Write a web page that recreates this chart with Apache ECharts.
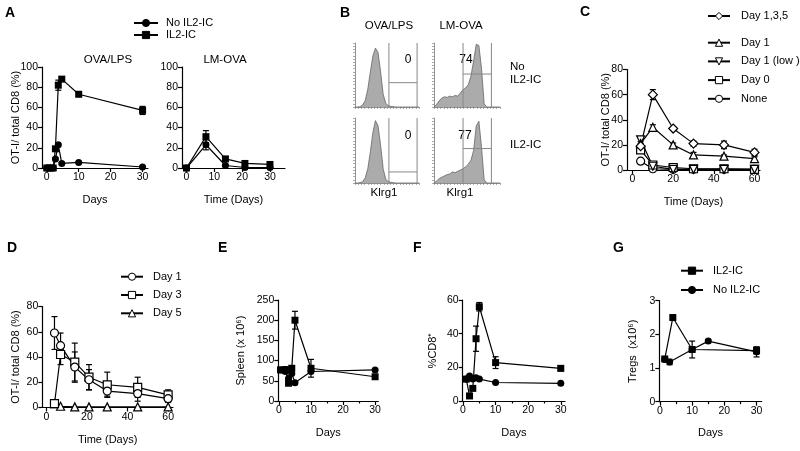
<!DOCTYPE html>
<html><head><meta charset="utf-8">
<script src="https://cdn.jsdelivr.net/npm/echarts@6/dist/echarts.min.js"></script>
<style>html,body{margin:0;padding:0;background:#fff}#c{width:800px;height:451px}</style>
</head><body><div id="c"></div>
<script>
// ---------- DATA ----------
// A: OVA/LPS
const aOvaDays = [0, 1, 2, 2.7, 3.6, 4.7, 10, 30];
const aOvaNoIC = [0, 0, 0, 9, 23, 4.5, 5.5, 1];
const aOvaNoICErr = [0, 0, 0, 1, 1, 1, 1, 1];
const aOvaIC = [0, 0, 0, 19, 82, 88, 73, 57];
const aOvaICErr = [0, 0, 0, 2, 5, 2, 2, 4];
// A: LM-OVA
const aLmDays = [0, 7, 14, 21, 30];
const aLmNoIC = [0, 23, 2.5, 0.5, 0.5];
const aLmNoICErr = [0, 5, 1, 0.5, 0.5];
const aLmIC = [0, 31, 9, 4.5, 3.5];
const aLmICErr = [0, 6, 1, 1, 1];
// B: Klrg1 histograms (channel %, normalised count %)
const hx  = [0,4,8,12,16,20,24,28,32,36,40,44,48,52,56,60,64,68,72,76,80,84,88,92,96,100];
const hTL = [0,0,0.5,3,10,28,55,80,92,85,55,20,6,2,1,0.5,0,0,0,0,0,0,0,0,0,0];
const hTR = [0,4,10,14,16,15,17,16,18,17,22,27,30,35,48,72,98,96,60,5,0,0,0,0,0,0];
const hBL = [0,0,0.5,2,8,22,48,78,96,88,58,22,6,2,1,0.5,0,0,0,0,0,0,0,0,0,0];
const hBR = [0,3,7,9,11,13,14,17,16,18,20,22,25,29,35,50,88,95,55,5,0,0,0,0,0,0];
const gateStart = [53, 44, 53, 44];
const gateEnd = [97, 87, 97, 87];
const gateHeight = [38, 51.5, 17, 53];
const klrg1Pct = ['0', '74', '0', '77'];
// C
const cDays = [4, 10, 20, 30, 45, 60];
const cD135 = [19, 60, 33, 21, 20, 14];
const cD135Err = [2, 4, 1.5, 2, 3, 2.5];
const cD1 = [21, 34, 20, 12, 11, 9];
const cD1Err = [1.5, 2, 1.5, 2, 1, 1.5];
const cD1low = [24, 3, 0.5, 0.5, 0.5, 0.5];
const cD0 = [16, 4, 2, 1, 1, 0.5];
const cNone = [7, 1, 0.5, 0.5, 0.5, 0.5];
// D
const dDays = [4, 7, 14, 21, 30, 45, 60];
const dDay1 = [59, 49, 32, 22, 13, 11, 7];
const dDay1Err = [13, 10, 12, 8, 4, 6, 3];
const dDay3 = [3, 42, 36, 24, 18, 16, 10];
const dDay3Err = [1, 8, 15, 10, 10, 8, 4];
const dDay5 = [3, 1, 0.5, 0.5, 0.5, 0.5, 0.5];
// E
const eDays = [0.5, 2, 3, 4, 5, 10, 30];
const eIC = [77, 77, 44, 81, 200, 81, 60];
const eICErr = [4, 8, 4, 5, 22, 22, 3];
const eNoIC = [77, 73, 56, 68, 45, 73, 77];
const eNoICErr = [2, 2, 2, 2, 2, 2, 2];
// F
const fDays = [1, 2, 3, 4, 5, 10, 30];
const fIC = [13, 3, 7.5, 37, 56, 22.8, 19.4];
const fICErr = [0.5, 1, 1, 7.5, 2.5, 3.5, 1.5];
const fNoIC = [13, 14.8, 13, 13.8, 13, 11, 10.5];
const fNoICErr = [0.5, 0.5, 0.5, 0.5, 0.5, 0.5, 0.5];
// G
const gICDays = [1.5, 4, 10, 30];
const gIC = [1.27, 2.5, 1.55, 1.52];
const gICErr = [0.05, 0.05, 0.25, 0.1];
const gNoDays = [1.5, 3, 10, 15, 30];
const gNo = [1.25, 1.18, 1.55, 1.8, 1.48];
const gNoErr = [0.05, 0.08, 0.05, 0.05, 0.15];

// ---------- HELPERS ----------
const FF = 'Liberation Sans, Arial, Helvetica, sans-serif';
const BLK = '#000';
const grids = [
  {left:42, top:67, width:106, height:101},     // 0 A left
  {left:182, top:67, width:103, height:101},    // 1 A right
  {left:355, top:43, width:64, height:64},      // 2 B TL
  {left:434, top:43, width:66, height:64},      // 3 B TR
  {left:355, top:118, width:64, height:65},     // 4 B BL
  {left:434, top:118, width:66, height:65},     // 5 B BR
  {left:627, top:69.5, width:133, height:100.5},// 6 C
  {left:42.3, top:306.5, width:130.7, height:101}, // 7 D
  {left:278.3, top:300, width:100, height:101}, // 8 E
  {left:462.7, top:300, width:102.3, height:101}, // 9 F
  {left:659.3, top:300.7, width:102.4, height:101} // 10 G
].map(g => Object.assign({containLabel:false, outerBoundsMode:'none'}, g));

function xAx(g, min, max, ticks, name, gap) {
  return {type:'value', gridIndex:g, min, max, name, nameLocation:'middle', nameGap:gap, nameMoveOverlap:false,
    nameTextStyle:{fontSize:11, color:BLK, fontFamily:FF},
    axisLine:{onZero:false, lineStyle:{color:BLK, width:1.2}},
    axisTick:{customValues:ticks, length:4, lineStyle:{color:BLK, width:1.2}},
    axisLabel:{customValues:ticks, fontSize:10.5, color:BLK, margin:4, fontFamily:FF},
    splitLine:{show:false}};
}
function yAx(g, max, interval, name, gap) {
  return {type:'value', gridIndex:g, min:0, max, interval, name, nameLocation:'middle', nameGap:gap, nameMoveOverlap:false,
    nameTextStyle:{fontSize:11, color:BLK, fontFamily:FF},
    axisLine:{onZero:false, lineStyle:{color:BLK, width:1.2}},
    axisTick:{length:4, lineStyle:{color:BLK, width:1.2}},
    axisLabel:{fontSize:10.5, color:BLK, margin:4, fontFamily:FF},
    splitLine:{show:false}};
}
function minorX(g, min, max, ticks) {
  return {type:'value', gridIndex:g, min, max, position:'bottom',
    axisLine:{show:false}, axisLabel:{show:false}, splitLine:{show:false},
    axisTick:{customValues:ticks, length:2.5, lineStyle:{color:BLK, width:1.2}}};
}
function bAx(g, isY) {
  return {type:'value', gridIndex:g, min:0, max:100, interval:5,
    axisLine:{onZero:false, lineStyle:{color:'#777', width:0.8}},
    axisTick:{length:2, lineStyle:{color:'#777', width:0.6}},
    axisLabel:{show:false}, splitLine:{show:false}};
}
function ln(name, gi, xs, ys, sym, open, size) {
  return {type:'line', name, xAxisIndex:gi, yAxisIndex:gi,
    data: xs.map((x,i)=>[x, ys[i]]), symbol:sym, symbolSize:size, showAllSymbol:true,
    lineStyle:{color:BLK, width:1.2},
    itemStyle: open ? {color:'#fff', borderColor:BLK, borderWidth:1.2} : {color:BLK, borderColor:BLK, borderWidth:0},
    z:3, animation:false};
}
function errBar(params, api) {
  const x = api.value(0), y = api.value(1), e = api.value(2);
  if (!e) return null;
  const t = api.coord([x, y + e]), b = api.coord([x, Math.max(0, y - e)]);
  const w = 3, st = {stroke:BLK, lineWidth:1.2};
  return {type:'group', children:[
    {type:'line', shape:{x1:t[0], y1:t[1], x2:b[0], y2:b[1]}, style:st},
    {type:'line', shape:{x1:t[0]-w, y1:t[1], x2:t[0]+w, y2:t[1]}, style:st},
    {type:'line', shape:{x1:b[0]-w, y1:b[1], x2:b[0]+w, y2:b[1]}, style:st}]};
}
function eb(gi, xs, ys, es) {
  return {type:'custom', xAxisIndex:gi, yAxisIndex:gi, data: xs.map((x,i)=>[x, ys[i], es[i]]),
    renderItem: errBar, z:2, silent:true, animation:false, encode:{x:0, y:1}};
}
function hist(gi, ys) {
  return {type:'line', xAxisIndex:gi, yAxisIndex:gi, data: hx.map((x,i)=>[x, ys[i]]),
    showSymbol:false, symbol:'none', lineStyle:{color:'#666', width:0.8},
    areaStyle:{color:'#ababab', opacity:1}, z:2, animation:false, silent:true};
}
function gate(gi, k) {
  return {type:'custom', xAxisIndex:gi, yAxisIndex:gi, data:[[gateStart[k], gateEnd[k], gateHeight[k]]],
    silent:true, animation:false, z:3,
    renderItem: (p, api) => {
      const s = api.value(0), e = api.value(1), h = api.value(2);
      const a = api.coord([s, 0]), b = api.coord([s, 100]), c = api.coord([s, h]), d = api.coord([e, h]);
      const f = api.coord([e, 0]), g2 = api.coord([e, 100]);
      const st = {stroke:'#888', lineWidth:1};
      return {type:'group', children:[
        {type:'line', shape:{x1:a[0], y1:a[1], x2:b[0], y2:b[1]}, style:st},
        {type:'line', shape:{x1:c[0], y1:c[1], x2:d[0], y2:d[1]}, style:st},
        {type:'line', shape:{x1:f[0], y1:f[1], x2:g2[0], y2:g2[1]}, style:st}]};
    }};
}
const DOWN = 'path://M0,0L10,0L5,9Z';
const yName = 'OT-I/ total CD8 (%)';

const xAxis = [
  xAx(0, -1.5, 31.7, [0,10,20,30], 'Days', 26),
  xAx(1, -1.6, 35.4, [0,10,20,30], 'Time (Days)', 26),
  bAx(2), bAx(3), bAx(4), bAx(5),
  xAx(6, -2.7, 62.7, [0,20,40,60], 'Time (Days)', 26),
  xAx(7, -2, 62.4, [0,20,40,60], 'Time (Days)', 27),
  xAx(8, -0.2, 31, [0,10,20,30], 'Days', 26),
  xAx(9, -0.1, 31.3, [0,10,20,30], 'Days', 26),
  xAx(10, -0.2, 31.6, [0,10,20,30], 'Days', 26),
  minorX(8, -0.2, 31, [5,15,25]),
  minorX(9, -0.1, 31.3, [5,15,25]),
  minorX(10, -0.2, 31.6, [5,15,25])
];
const yAxis = [
  yAx(0, 100, 20, yName, 21),
  yAx(1, 100, 20, '', 0),
  bAx(2,1), bAx(3,1), bAx(4,1), bAx(5,1),
  yAx(6, 80, 20, yName, 16),
  yAx(7, 80, 20, yName, 21),
  yAx(8, 250, 50, 'Spleen (x 10\u2076)', 32),
  yAx(9, 60, 20, '%CD8\u207A', 24),
  yAx(10, 3, 1, 'Tregs  (x10\u2076)', 21)
];

const series = [
  // A left
  eb(0, aOvaDays, aOvaIC, aOvaICErr), eb(0, aOvaDays, aOvaNoIC, aOvaNoICErr),
  ln('No IL2-IC', 0, aOvaDays, aOvaNoIC, 'circle', false, 7),
  ln('IL2-IC', 0, aOvaDays, aOvaIC, 'rect', false, 7),
  // A right
  eb(1, aLmDays, aLmIC, aLmICErr), eb(1, aLmDays, aLmNoIC, aLmNoICErr),
  ln('No IL2-IC', 1, aLmDays, aLmNoIC, 'circle', false, 7),
  ln('IL2-IC', 1, aLmDays, aLmIC, 'rect', false, 7),
  // B
  hist(2, hTL), hist(3, hTR), hist(4, hBL), hist(5, hBR),
  gate(2, 0), gate(3, 1), gate(4, 2), gate(5, 3),
  // C
  eb(6, cDays, cD135, cD135Err), eb(6, cDays, cD1, cD1Err),
  ln('None', 6, cDays, cNone, 'circle', true, 8),
  ln('Day 0', 6, cDays, cD0, 'rect', true, 8),
  ln('Day 1 (low )', 6, cDays, cD1low, DOWN, true, 8),
  ln('Day 1', 6, cDays, cD1, 'triangle', true, 8),
  ln('Day 1,3,5', 6, cDays, cD135, 'diamond', true, 9),
  // D
  eb(7, dDays, dDay1, dDay1Err), eb(7, dDays, dDay3, dDay3Err),
  ln('D:Day 5', 7, dDays, dDay5, 'triangle', true, 8),
  ln('D:Day 3', 7, dDays, dDay3, 'rect', true, 8),
  ln('D:Day 1', 7, dDays, dDay1, 'circle', true, 8),
  // E
  eb(8, eDays, eIC, eICErr), eb(8, eDays, eNoIC, eNoICErr),
  ln('No IL2-IC', 8, eDays, eNoIC, 'circle', false, 7),
  ln('IL2-IC', 8, eDays, eIC, 'rect', false, 7),
  // F
  eb(9, fDays, fIC, fICErr), eb(9, fDays, fNoIC, fNoICErr),
  ln('No IL2-IC', 9, fDays, fNoIC, 'circle', false, 7),
  ln('IL2-IC', 9, fDays, fIC, 'rect', false, 7),
  // G
  eb(10, gICDays, gIC, gICErr), eb(10, gNoDays, gNo, gNoErr),
  ln('No IL2-IC', 10, gNoDays, gNo, 'circle', false, 7),
  ln('IL2-IC', 10, gICDays, gIC, 'rect', false, 7)
];

function lg(left, top, w, pad, lh, gap, data) {
  return {left, top, padding:0, orient:'vertical', itemWidth:w, itemHeight:9, itemGap:gap, selectedMode:false,
    itemStyle:{borderWidth:1},
    textStyle:{fontSize:11, color:BLK, fontFamily:FF, lineHeight:lh, padding:[0,0,0,pad]},
    formatter: n => n.replace(/^D:/, ''), data};
}
const legend = [
  lg(133, 17, 24, 3, 12, 0, ['No IL2-IC', 'IL2-IC']),
  lg(707, 10, 22, 6, 12, 0, ['Day 1,3,5']),
  lg(707, 36.7, 22, 6, 12, 6.7, ['Day 1', 'Day 1 (low )', 'Day 0', 'None']),
  lg(120, 270.7, 22, 5, 12, 6.3, ['D:Day 1', 'D:Day 3', 'D:Day 5']),
  lg(680, 264.7, 22, 5, 12, 7.3, ['IL2-IC', 'No IL2-IC'])
];

function txt(x, y, s, opt) {
  return {type:'text', x, y, silent:true, style:Object.assign({text:s, fill:BLK, font:'11px ' + FF, textAlign:'center', textVerticalAlign:'middle'}, opt||{})};
}
const bold = {font:'bold 14px ' + FF, textAlign:'left', textVerticalAlign:'top'};
const graphic = [
  txt(5, 6, 'A', bold), txt(340, 6, 'B', bold), txt(580, 5, 'C', bold),
  txt(7, 241, 'D', bold), txt(218, 241, 'E', bold), txt(413, 241, 'F', bold), txt(613, 241, 'G', bold),
  txt(108, 60, 'OVA/LPS', {font:'11.5px ' + FF}), txt(225, 60, 'LM-OVA', {font:'11.5px ' + FF}),
  txt(389, 26, 'OVA/LPS', {font:'11.5px ' + FF}), txt(461, 26, 'LM-OVA', {font:'11.5px ' + FF}),
  txt(384, 193, 'Klrg1', {font:'11.5px ' + FF}), txt(460, 193, 'Klrg1', {font:'11.5px ' + FF}),
  txt(510, 67, 'No', {textAlign:'left', font:'11.5px ' + FF}),
  txt(510, 80, 'IL2-IC', {textAlign:'left', font:'11.5px ' + FF}),
  txt(510, 145, 'IL2-IC', {textAlign:'left', font:'11.5px ' + FF}),
  txt(408, 60, klrg1Pct[0], {font:'12px ' + FF}), txt(466, 60, klrg1Pct[1], {font:'12px ' + FF}),
  txt(408, 136, klrg1Pct[2], {font:'12px ' + FF}), txt(465, 136, klrg1Pct[3], {font:'12px ' + FF})
];

const chart = echarts.init(document.getElementById('c'), null, {renderer:'canvas'});
chart.setOption({animation:false, backgroundColor:'#fff', textStyle:{fontFamily:FF},
  grid:grids, xAxis, yAxis, series, legend, graphic});
</script></body></html>
